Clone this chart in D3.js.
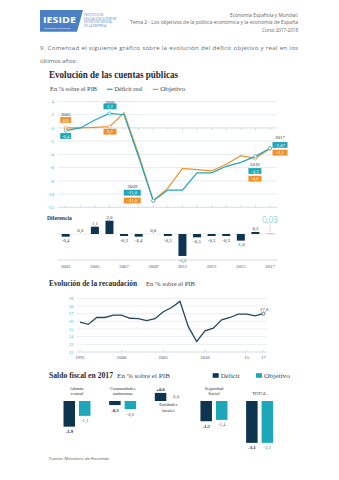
<!DOCTYPE html>
<html>
<head>
<meta charset="utf-8">
<script src="https://cdn.jsdelivr.net/npm/d3@7"></script>
<style>
  body { margin: 0; background: #fff; }
  svg { display: block; }
</style>
</head>
<body>
<svg id="page" width="339" height="480"></svg>
<script>
// ---- Evolución de las cuentas públicas (% PIB) ----
const years       = [2003, 2004, 2005, 2006, 2007, 2008, 2009, 2010, 2011, 2012, 2013, 2014, 2015, 2016, 2017];
const deficitReal = [-0.4, 0.0, 1.2, 2.2, 2.0, -4.4, -11.0, -9.4, -9.4, -6.8, -6.8, -5.8, -5.2, -4.3, -3.07];
const objetivo    = [0.0, 0.0, 0.1, 0.2, 2.3, -4.0, -11.0, -9.1, -6.1, -6.3, -6.5, -5.5, -4.2, -4.6, -3.1];
const diferencia  = [-0.4, 0.0, 1.1, 2.0, -0.3, -0.4, 0.0, -0.3, -3.3, -0.5, -0.3, -0.3, -1.0, 0.3, 0.03];
const yTicksCuentas = [4, 2, 0, -2, -4, -6, -8, -10, -12];
const yearLabels    = [2003, 2005, 2007, 2009, 2011, 2013, 2015, 2017];
const calloutYears  = [2003, 2006, 2009, 2016, 2017];

// ---- Evolución de la recaudación (% PIB) ----
const recYears  = [1995, 1996, 1997, 1998, 1999, 2000, 2001, 2002, 2003, 2004, 2005, 2006, 2007, 2008, 2009, 2010, 2011, 2012, 2013, 2014, 2015, 2016, 2017];
const recaudacion = [15.9, 15.6, 16.5, 16.5, 16.8, 16.8, 16.4, 16.35, 16.1, 16.35, 17.25, 17.8, 18.6, 15.3, 13.35, 14.75, 15.1, 16.2, 16.5, 16.95, 16.95, 16.7, 17.0];
const recTicks  = [19, 18, 17, 16, 15, 14, 13, 12];
const recXTicks = [1995, 2000, 2005, 2010, 2015, 2017];
const recXLabels = ["1995", "2000", "2005", "2010", "15", "17"];

// ---- Saldo fiscal en 2017 (% PIB) ----
const administraciones = [["Admón.", "central"], ["Comunidades", "autónomas"], ["Entidades", "locales"], ["Seguridad", "Social"], ["TOTAL"]];
const saldoDeficit  = [-1.9, -0.3, 0.6, -1.5, -3.1];
const saldoObjetivo = [-1.1, -0.6, 0.0, -1.4, -3.1];

const TEAL = "#1ea6b9", ORANGE = "#f0912a", NAVY = "#0e3550", LINE = "#25475f";
const SERIF = "'Liberation Serif', 'DejaVu Serif', serif";
const SANS = "'Open Sans', 'DejaVu Sans', sans-serif";

const fmt = v => {
  const s = Math.abs(v * 10 - Math.round(v * 10)) < 1e-9 ? v.toFixed(1) : v.toFixed(2);
  return s.replace(".", ",");
};

const svg = d3.select("#page");
svg.append("rect").attr("width", 339).attr("height", 480).attr("fill", "#fff");

// ---------- page header ----------
const hdr = svg.append("g");
hdr.append("path")
  .attr("d", "M40,10 L83,10 L77,31.7 L40,31.7 Z")
  .attr("fill", "#4a80c6");
hdr.append("text").attr("x", 43).attr("y", 23.2).text("IESIDE")
  .attr("font-family", SANS).attr("font-weight", 700).attr("font-size", 8.6)
  .attr("fill", "#fff").attr("textLength", 33).attr("lengthAdjust", "spacingAndGlyphs");
hdr.append("text").attr("x", 44).attr("y", 28.8).text("BUSINESS INSTITUTE")
  .attr("font-family", SANS).attr("font-size", 2.4).attr("fill", "#fff")
  .attr("textLength", 26).attr("lengthAdjust", "spacingAndGlyphs");
["INSTITUTO DE", "EDUCACIÓN SUPERIOR", "INTERCONTINENTAL", "DE LA EMPRESA"].forEach((t, i) => {
  hdr.append("text").attr("x", 84).attr("y", 16.3 + i * 3.4).text(t)
    .attr("font-family", SANS).attr("font-size", 3).attr("fill", "#5a8bcc");
});
const hdrLines = [
  ["Economía Española y Mundial:", 16.5, 68],
  ["Tema 2 - Los objetivos de la política económica y la economía de España", 24.3, 168],
  ["Curso 2017-2018", 31.5, 36]
];
hdrLines.forEach(([t, y, w]) => {
  hdr.append("text").attr("x", 298).attr("y", y).attr("text-anchor", "end").text(t)
    .attr("font-family", SANS).attr("font-size", 4.8).attr("fill", "#666")
    .attr("textLength", w).attr("lengthAdjust", "spacingAndGlyphs");
});
svg.append("text").attr("x", 40).attr("y", 50.3)
  .text("9. Comentad el siguiente gráfico sobre la evolución del déficit objetivo y real en los")
  .attr("font-family", SANS).attr("font-size", 6.1).attr("fill", "#666")
  .attr("textLength", 258).attr("lengthAdjust", "spacing");
svg.append("text").attr("x", 40).attr("y", 63)
  .text("últimos años:")
  .attr("font-family", SANS).attr("font-size", 6.1).attr("fill", "#666")
  .attr("textLength", 37).attr("lengthAdjust", "spacing");

// ---------- Evolución de las cuentas públicas ----------
const c1 = svg.append("g");
c1.append("text").attr("x", 49).attr("y", 77.5).text("Evolución de las cuentas públicas")
  .attr("font-family", SERIF).attr("font-weight", 700).attr("font-size", 10)
  .attr("fill", "#1d2b35").attr("textLength", 129).attr("lengthAdjust", "spacingAndGlyphs");
c1.append("text").attr("x", 50).attr("y", 91).text("En % sobre el PIB")
  .attr("font-family", SERIF).attr("font-size", 6).attr("fill", "#444")
  .attr("textLength", 47).attr("lengthAdjust", "spacingAndGlyphs");
[[107, "Déficit real", TEAL, 28], [152.7, "Objetivo", ORANGE, 25]].forEach(([x, t, c, w]) => {
  c1.append("line").attr("x1", x).attr("x2", x + 5.5).attr("y1", 89.3).attr("y2", 89.3)
    .attr("stroke", c).attr("stroke-width", 1.2);
  c1.append("text").attr("x", x + 7.5).attr("y", 91).text(t)
    .attr("font-family", SERIF).attr("font-size", 6).attr("fill", "#444")
    .attr("textLength", w).attr("lengthAdjust", "spacingAndGlyphs");
});

const x1 = d3.scaleLinear().domain([2003, 2017]).range([65.7, 270]);
const y1 = d3.scaleLinear().domain([4, -12]).range([101.5, 207.3]);

yTicksCuentas.forEach(t => {
  const strong = t === 0 || t === -12;
  c1.append("line").attr("x1", 58).attr("x2", 277).attr("y1", y1(t)).attr("y2", y1(t))
    .attr("stroke", strong ? "#c8d3dc" : "#e3eaf0").attr("stroke-width", strong ? 0.8 : 0.9);
  c1.append("text").attr("x", 54).attr("y", y1(t)).attr("dy", "0.35em")
    .attr("text-anchor", "end").text(t)
    .attr("font-family", SERIF).attr("font-size", 5).attr("fill", "#4cb2c3");
});
years.forEach(yr => {
  c1.append("line").attr("x1", x1(yr)).attr("x2", x1(yr))
    .attr("y1", y1(0)).attr("y2", y1(0) + 2.6).attr("stroke", "#c8d3dc").attr("stroke-width", 0.7);
  c1.append("line").attr("x1", x1(yr)).attr("x2", x1(yr))
    .attr("y1", y1(-12) - 2.6).attr("y2", y1(-12)).attr("stroke", "#c8d3dc").attr("stroke-width", 0.7);
});

const rows = years.map((yr, i) => ({ yr, real: deficitReal[i], obj: objetivo[i], dif: diferencia[i] }));
const lineReal = d3.line().x(d => x1(d.yr)).y(d => y1(d.real));
const lineObj  = d3.line().x(d => x1(d.yr)).y(d => y1(d.obj));
c1.append("path").datum(rows).attr("d", lineObj)
  .attr("fill", "none").attr("stroke", ORANGE).attr("stroke-width", 1.2);
c1.append("path").datum(rows).attr("d", lineReal)
  .attr("fill", "none").attr("stroke", TEAL).attr("stroke-width", 1.2);

// callout offsets (px) relative to the real-deficit point
const calloutLayout = {
  2003: { dx: 0,   yearDy: -16,   realDy: 5.4,  objDy: -10.6, w: 11 },
  2006: { dx: 0.5, yearDy: -11,   realDy: -7,   objDy: 18.3,  w: 13 },
  2009: { dx: -21, yearDy: -14.7, realDy: -8,   objDy: -0.2,  w: 17 },
  2016: { dx: -0.5, yearDy: 8,    realDy: 14.6, objDy: 22.3,  w: 13 },
  2017: { dx: 10,  yearDy: -10.8, realDy: -3.3, objDy: 4.4,   w: 15 }
};
calloutYears.forEach(yr => {
  const d = rows.find(r => r.yr === yr);
  const L = calloutLayout[yr];
  const px = x1(yr), py = y1(d.real);
  c1.append("circle").attr("cx", px).attr("cy", y1(d.obj)).attr("r", 1.6)
    .attr("fill", "#fff").attr("stroke", ORANGE).attr("stroke-width", 0.7);
  c1.append("circle").attr("cx", px).attr("cy", py).attr("r", 1.6)
    .attr("fill", "#fff").attr("stroke", TEAL).attr("stroke-width", 0.7);
  const cx = px + L.dx;
  c1.append("text").attr("x", cx).attr("y", py + L.yearDy).attr("dy", "0.35em")
    .attr("text-anchor", "middle").text(yr)
    .attr("font-family", SERIF).attr("font-size", 4.8).attr("fill", "#333");
  [[d.real, L.realDy, TEAL], [d.obj, L.objDy, ORANGE]].forEach(([v, dy, c]) => {
    c1.append("rect").attr("x", cx - L.w / 2).attr("y", py + dy - 2.9)
      .attr("width", L.w).attr("height", 5.8).attr("fill", c);
    c1.append("text").attr("x", cx).attr("y", py + dy).attr("dy", "0.35em")
      .attr("text-anchor", "middle").text(fmt(v))
      .attr("font-family", SERIF).attr("font-size", 4.8).attr("fill", "#fff");
  });
});

// ---------- Diferencia ----------
const c2 = svg.append("g");
c2.append("text").attr("x", 47).attr("y", 220).text("Diferencia")
  .attr("font-family", SERIF).attr("font-weight", 700).attr("font-size", 5.6).attr("fill", "#333");
const yD = d3.scaleLinear().domain([0, 1]).range([234, 234 - 6.65]);
c2.append("line").attr("x1", 57).attr("x2", 277).attr("y1", yD(0)).attr("y2", yD(0))
  .attr("stroke", "#e6e6e6").attr("stroke-width", 0.8);
rows.forEach(d => {
  const top = Math.min(yD(0), yD(d.dif)), h = Math.abs(yD(d.dif) - yD(0));
  c2.append("rect").attr("x", x1(d.yr) - 4).attr("y", top).attr("width", 8).attr("height", Math.max(h, 0))
    .attr("fill", NAVY);
  if (d.yr === 2017) return;
  const ly = d.dif > 0 ? yD(d.dif) - 2 : d.dif === 0 ? yD(0) - 2.5 : yD(d.dif) + 5.6;
  c2.append("text").attr("x", x1(d.yr)).attr("y", ly).attr("text-anchor", "middle")
    .text(fmt(d.dif)).attr("font-family", SERIF).attr("font-size", 4.8).attr("fill", "#333");
});
const last = rows[rows.length - 1];
c2.append("line").attr("x1", x1(last.yr)).attr("x2", x1(last.yr)).attr("y1", 225).attr("y2", 232)
  .attr("stroke", "#bbb").attr("stroke-width", 0.5);
c2.append("text").attr("x", x1(last.yr)).attr("y", 223).attr("text-anchor", "middle")
  .text(fmt(last.dif)).attr("font-family", SANS).attr("font-weight", 300).attr("font-size", 9)
  .attr("fill", "#43b8cb").attr("textLength", 16).attr("lengthAdjust", "spacingAndGlyphs");
c2.append("line").attr("x1", 57).attr("x2", 277).attr("y1", 260).attr("y2", 260)
  .attr("stroke", "#d2d2d2").attr("stroke-width", 0.8);
yearLabels.forEach(yr => {
  c2.append("text").attr("x", x1(yr)).attr("y", 268).attr("text-anchor", "middle").text(yr)
    .attr("font-family", SERIF).attr("font-size", 4.8).attr("fill", "#555");
});

// ---------- Evolución de la recaudación ----------
const c3 = svg.append("g");
c3.append("text").attr("x", 49).attr("y", 286).text("Evolución de la recaudación")
  .attr("font-family", SERIF).attr("font-weight", 700).attr("font-size", 7.6)
  .attr("fill", "#1d2b35").attr("textLength", 88).attr("lengthAdjust", "spacingAndGlyphs");
c3.append("text").attr("x", 146).attr("y", 286).text("En % sobre el PIB")
  .attr("font-family", SERIF).attr("font-size", 6).attr("fill", "#444")
  .attr("textLength", 49).attr("lengthAdjust", "spacingAndGlyphs");
const xR = d3.scaleLinear().domain([1995, 2017]).range([80, 263.3]);
const yR = d3.scaleLinear().domain([19, 12]).range([298.3, 352]);
recTicks.forEach(t => {
  c3.append("line").attr("x1", 77).attr("x2", 267).attr("y1", yR(t)).attr("y2", yR(t))
    .attr("stroke", t === 12 ? "#c8d3dc" : "#e3eaf0").attr("stroke-width", 0.8);
  c3.append("text").attr("x", 73.5).attr("y", yR(t)).attr("dy", "0.35em").attr("text-anchor", "end")
    .text(t).attr("font-family", SERIF).attr("font-size", 4.8).attr("fill", "#4cb2c3");
});
recXTicks.forEach((yr, i) => {
  c3.append("line").attr("x1", xR(yr)).attr("x2", xR(yr)).attr("y1", yR(12) - 2.5).attr("y2", yR(12))
    .attr("stroke", "#c8d3dc").attr("stroke-width", 0.7);
  c3.append("text").attr("x", xR(yr)).attr("y", 358.5).attr("text-anchor", "middle").text(recXLabels[i])
    .attr("font-family", SERIF).attr("font-size", 4.8).attr("fill", "#555");
});
const recRows = recYears.map((yr, i) => ({ yr, v: recaudacion[i] }));
c3.append("path").datum(recRows)
  .attr("d", d3.line().x(d => xR(d.yr)).y(d => yR(d.v)))
  .attr("fill", "none").attr("stroke", LINE).attr("stroke-width", 1.3);
const recLast = recRows[recRows.length - 1];
c3.append("circle").attr("cx", xR(recLast.yr)).attr("cy", yR(recLast.v)).attr("r", 1.6)
  .attr("fill", "#fff").attr("stroke", LINE).attr("stroke-width", 0.7);
c3.append("text").attr("x", xR(recLast.yr) + 1).attr("y", yR(recLast.v) - 3).attr("text-anchor", "middle")
  .text(fmt(recLast.v)).attr("font-family", SERIF).attr("font-size", 4.8).attr("fill", "#333");

// ---------- Saldo fiscal en 2017 ----------
const c4 = svg.append("g");
c4.append("text").attr("x", 49).attr("y", 377.5).text("Saldo fiscal en 2017")
  .attr("font-family", SERIF).attr("font-weight", 700).attr("font-size", 8.2)
  .attr("fill", "#1d2b35").attr("textLength", 64).attr("lengthAdjust", "spacingAndGlyphs");
c4.append("text").attr("x", 117).attr("y", 377.5).text("En % sobre el PIB")
  .attr("font-family", SERIF).attr("font-size", 6).attr("fill", "#444")
  .attr("textLength", 53).attr("lengthAdjust", "spacingAndGlyphs");
[[212.7, "Déficit", NAVY, 19], [256, "Objetivo", TEAL, 26]].forEach(([x, t, c, w]) => {
  c4.append("rect").attr("x", x).attr("y", 373.2).attr("width", 6).attr("height", 4.6).attr("fill", c);
  c4.append("text").attr("x", x + 8).attr("y", 377.6).text(t)
    .attr("font-family", SERIF).attr("font-size", 6).attr("fill", "#444")
    .attr("textLength", w).attr("lengthAdjust", "spacingAndGlyphs");
});
const xS = d3.scalePoint().domain(administraciones.map(a => a.join(" "))).range([77, 259.6]);
const yS = d3.scaleLinear().domain([0, -1]).range([401, 414.5]);
const barW = 11.5, gap = 4;
administraciones.forEach((lab, i) => {
  const cx = xS(lab.join(" "));
  [[saldoDeficit[i], cx - gap / 2 - barW, NAVY, "#1a2e3b", 700],
   [saldoObjetivo[i], cx + gap / 2, TEAL, "#555", 400]].forEach(([v, x, c, tc, fw]) => {
    const top = Math.min(yS(0), yS(v)), h = Math.abs(yS(v) - yS(0));
    c4.append("rect").attr("x", x).attr("y", top).attr("width", barW).attr("height", h).attr("fill", c);
    const ly = v > 0 ? yS(v) - 2.2 : v === 0 ? yS(0) - 3 : yS(v) + 6.5;
    const t = (v > 0 ? "+" : "") + fmt(v);
    c4.append("text").attr("x", x + barW / 2).attr("y", ly).attr("text-anchor", "middle").text(t)
      .attr("font-family", SERIF).attr("font-weight", fw).attr("font-size", 4.8).attr("fill", tc);
  });
  const positive = saldoDeficit[i] > 0;
  lab.forEach((ln, j) => {
    const ly = positive ? 406 + j * 5.5 : 395 - (lab.length - 1 - j) * 5.5;
    c4.append("text").attr("x", cx).attr("y", ly).attr("text-anchor", "middle").text(ln)
      .attr("font-family", SERIF).attr("font-size", 4.6).attr("fill", "#333");
  });
});
c4.append("text").attr("x", 49).attr("y", 459.5).text("Fuente: Ministerio de Hacienda.")
  .attr("font-family", SANS).attr("font-size", 3.8).attr("fill", "#555")
  .attr("textLength", 61).attr("lengthAdjust", "spacingAndGlyphs");
</script>
</body>
</html>
